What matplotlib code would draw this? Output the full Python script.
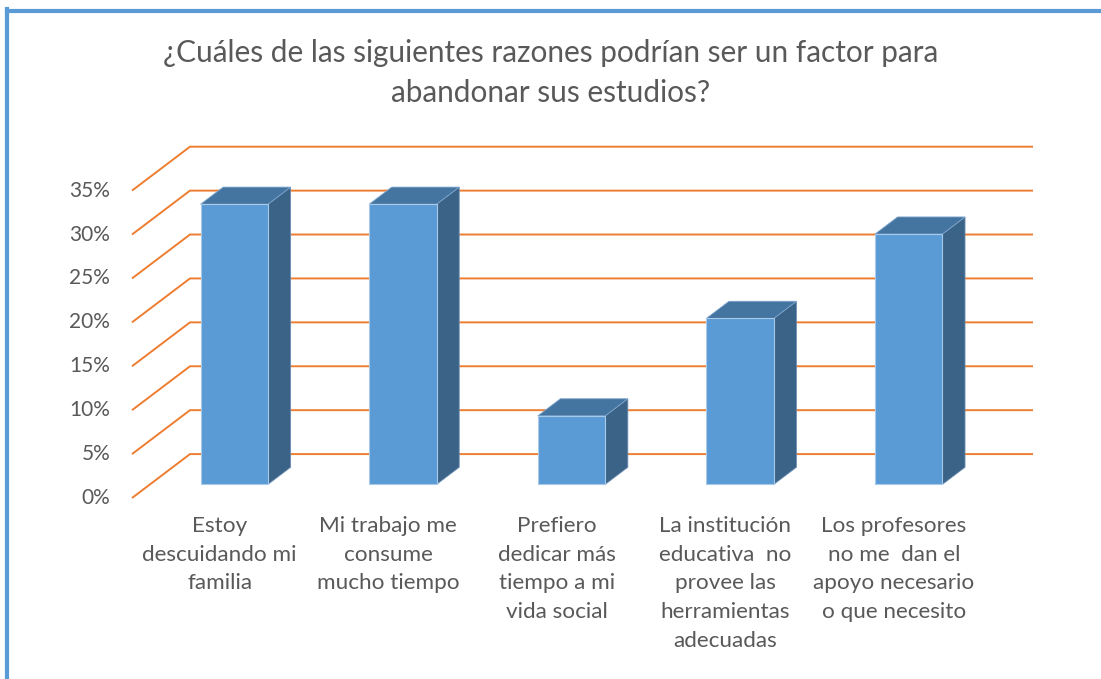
import matplotlib.pyplot as plt
from matplotlib.patches import Polygon
from matplotlib.lines import Line2D

categorias = [
    "Estoy\ndescuidando mi\nfamilia",
    "Mi trabajo me\nconsume\nmucho tiempo",
    "Prefiero\ndedicar más\ntiempo a mi\nvida social",
    "La institución\neducativa  no\nprovee las\nherramientas\nadecuadas",
    "Los profesores\nno me  dan el\napoyo necesario\no que necesito",
]
valores = [31.9, 31.9, 7.8, 18.9, 28.5]
ticks = [0, 5, 10, 15, 20, 25, 30, 35]
titulo = "¿Cuáles de las siguientes razones podrían ser un factor para\nabandonar sus estudios?"

# falso 3D: desplazamiento de la profundidad (en unidades de datos)
SX, SY = 0.344, 5.0
D0, D1 = 0.31, 0.70
ANCHO = 0.4

C_FRENTE = "#5B9BD5"
C_TOPE = "#4474A0"
C_LADO = "#3A6387"
NARANJA = "#ED7D31"
GRIS = "#595959"

plt.rcParams["font.family"] = ["Lato", "DejaVu Sans"]

fig = plt.figure(figsize=(11.01, 6.79), dpi=100)
ax = fig.add_axes([132 / 1101, 1 - 498 / 679, 901 / 1101, 351.3 / 679])
ax.set_xlim(0, len(categorias) + SX)
ax.set_ylim(0, ticks[-1] + SY)
ax.axis("off")

# lineas de la cuadricula (pared lateral + pared del fondo)
for t in ticks:
    ax.plot([0, SX, len(categorias) + SX], [t, t + SY, t + SY],
            color=NARANJA, lw=1.4, zorder=1, solid_capstyle="butt", clip_on=False)
    ax.text(-0.13, t, f"{t}%", ha="right", va="center", fontsize=15, color=GRIS)

for i, v in enumerate(valores):
    x0 = i + 0.5 - ANCHO / 2
    x1 = i + 0.5 + ANCHO / 2
    fx0, fx1 = x0 + D0 * SX, x1 + D0 * SX
    fy0 = D0 * SY
    bx0, bx1 = x0 + D1 * SX, x1 + D1 * SX
    by0 = D1 * SY
    frente = [(fx0, fy0), (fx1, fy0), (fx1, fy0 + v), (fx0, fy0 + v)]
    tope = [(fx0, fy0 + v), (fx1, fy0 + v), (bx1, by0 + v), (bx0, by0 + v)]
    lado = [(fx1, fy0), (bx1, by0), (bx1, by0 + v), (fx1, fy0 + v)]
    ax.add_patch(Polygon(lado, closed=True, facecolor=C_LADO, edgecolor="#6C8FB5", lw=0.6, zorder=3))
    ax.add_patch(Polygon(tope, closed=True, facecolor=C_TOPE, edgecolor="#7EA6CF", lw=0.6, zorder=3))
    ax.add_patch(Polygon(frente, closed=True, facecolor=C_FRENTE, edgecolor="#A9C9E8", lw=0.8, zorder=4))
    ax.text(i + 0.52, -2.0, categorias[i], ha="center", va="top", fontsize=16.2,
            color=GRIS, linespacing=1.56)

fig.text(0.5, 1 - 73 / 679, titulo, ha="center", va="center", fontsize=21.4,
         color=GRIS, linespacing=1.5)

# borde del grafico
fig.add_artist(Line2D([7 / 1101, 1], [1 - 10.5 / 679, 1 - 10.5 / 679], color="#5B9BD5", lw=3))
fig.add_artist(Line2D([7 / 1101, 7 / 1101], [0, 1 - 9 / 679], color="#5B9BD5", lw=3))

fig.savefig("out.png", dpi=100, facecolor="white")
